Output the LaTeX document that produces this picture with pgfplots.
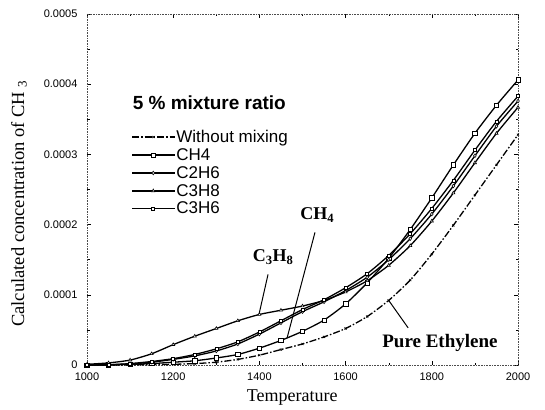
\documentclass[border=0pt]{standalone}
\usepackage{fontspec}
\setmainfont{Liberation Serif}
\setsansfont{Liberation Sans}
\usepackage{pgfplots}
\pgfplotsset{compat=1.18}
\usepackage{pgfplotstable}

% CH3 concentration vs temperature, 5 % additive in ethylene
\pgfplotstableread{
T c
1000 0
1050 0.001e-4
1100 0.002e-4
1150 0.005e-4
1200 0.01e-4
1250 0.02e-4
1300 0.04e-4
1350 0.08e-4
1400 0.14e-4
1450 0.22e-4
1500 0.30e-4
1550 0.40e-4
1600 0.52e-4
1650 0.69e-4
1700 0.92e-4
1750 1.21e-4
1800 1.58e-4
1850 1.99e-4
1900 2.42e-4
1950 2.85e-4
2000 3.28e-4
}\pure

\pgfplotstableread{
T c
1000 0
1050 0.002e-4
1100 0.01e-4
1150 0.02e-4
1200 0.04e-4
1250 0.06e-4
1300 0.10e-4
1350 0.15e-4
1400 0.24e-4
1450 0.35e-4
1500 0.48e-4
1550 0.64e-4
1600 0.87e-4
1650 1.17e-4
1700 1.52e-4
1750 1.93e-4
1800 2.38e-4
1850 2.85e-4
1900 3.30e-4
1950 3.70e-4
2000 4.06e-4
}\methane

\pgfplotstableread{
T c
1000 0
1050 0.003e-4
1100 0.015e-4
1150 0.04e-4
1200 0.08e-4
1250 0.13e-4
1300 0.20e-4
1350 0.30e-4
1400 0.44e-4
1450 0.60e-4
1500 0.76e-4
1550 0.90e-4
1600 1.06e-4
1650 1.25e-4
1700 1.50e-4
1750 1.80e-4
1800 2.15e-4
1850 2.55e-4
1900 2.98e-4
1950 3.40e-4
2000 3.76e-4
}\ethane

\pgfplotstableread{
T c
1000 0.01e-4
1050 0.03e-4
1100 0.07e-4
1150 0.16e-4
1200 0.29e-4
1250 0.41e-4
1300 0.52e-4
1350 0.63e-4
1400 0.72e-4
1450 0.78e-4
1500 0.84e-4
1550 0.92e-4
1600 1.04e-4
1650 1.20e-4
1700 1.42e-4
1750 1.70e-4
1800 2.05e-4
1850 2.45e-4
1900 2.88e-4
1950 3.30e-4
2000 3.67e-4
}\propane

\pgfplotstableread{
T c
1000 0
1050 0.004e-4
1100 0.02e-4
1150 0.05e-4
1200 0.09e-4
1250 0.15e-4
1300 0.23e-4
1350 0.33e-4
1400 0.47e-4
1450 0.63e-4
1500 0.79e-4
1550 0.93e-4
1600 1.10e-4
1650 1.30e-4
1700 1.56e-4
1750 1.87e-4
1800 2.23e-4
1850 2.63e-4
1900 3.06e-4
1950 3.47e-4
2000 3.83e-4
}\propene

\begin{document}
\begin{tikzpicture}
\path[use as bounding box] (-87pt,-44pt) rectangle (458pt,365pt);
\begin{axis}[
  scale only axis,
  width=431pt, height=351pt,
  xmin=1000, xmax=2000, ymin=0, ymax=0.0005,
  scaled y ticks=false,
  xtick={1000,1200,1400,1600,1800,2000},
  xticklabels={1000,1200,1400,1600,1800,2000},
  minor xtick={1100,1300,1500,1700,1900},
  ytick={0,0.0001,0.0002,0.0003,0.0004,0.0005},
  yticklabels={0,0.0001,0.0002,0.0003,0.0004,0.0005},
  minor ytick={0.00005,0.00015,0.00025,0.00035,0.00045},
  tick align=inside,
  major tick length=4pt, minor tick length=2.5pt,
  tick style={black, thin},
  axis line style={black!70, densely dotted, line width=0.6pt},
  ticklabel style={font=\fontsize{11}{13}\selectfont\sffamily},
  yticklabel style={xshift=-6pt},
  xticklabel style={yshift=-4pt},
  xlabel={Temperature},
  ylabel={Calculated concentration of CH \textsubscript{3}},
  xlabel style={font=\fontsize{18}{20}\selectfont, at={(axis description cs:0.476,-0.094)}, anchor=center},
  ylabel style={font=\fontsize{18.5}{20}\selectfont, at={(axis description cs:-0.158,0.46)}, anchor=center},
  legend cell align=left,
  legend style={at={(axis cs:1103,3.37e-4)}, anchor=north west, draw=none, fill=none,
    font=\fontsize{17}{19}\selectfont\sffamily, row sep=1.5pt, inner sep=0pt,
    nodes={inner sep=1.5pt}},
  legend image code/.code={%
    \draw[mark repeat=2, mark phase=2, #1] plot coordinates {(0pt,0pt) (21pt,0pt) (42pt,0pt)};},
  every axis plot/.append style={black, line width=1.3pt, smooth, tension=0.4,
    mark options={solid, line width=0.6pt, fill=white}},
]
\addplot[dash pattern=on 7pt off 2pt on 1.5pt off 2pt, mark=x, mark size=1.5pt] table[x=T,y=c] {\pure};
\addlegendentry{Without mixing}
\addplot[mark=square*, mark size=2.2pt] table[x=T,y=c] {\methane};
\addlegendentry{CH4}
\addplot[mark=diamond*, mark size=1.8pt] table[x=T,y=c] {\ethane};
\addlegendentry{C2H6}
\addplot[mark=triangle*, mark size=1.8pt] table[x=T,y=c] {\propane};
\addlegendentry{C3H8}
\addplot[mark=square*, mark size=1.5pt] table[x=T,y=c] {\propene};
\addlegendentry{C3H6}

\node[anchor=west, font=\fontsize{19}{21}\selectfont\sffamily\bfseries] at (axis cs:1098,3.74e-4) {5 \% mixture ratio};

% call-outs
\node[font=\fontsize{18}{20}\selectfont\bfseries] at (axis cs:1432,1.54e-4) {C\textsubscript{3}H\textsubscript{8}};
\draw[line width=1pt] (axis cs:1420,1.29e-4) -- (axis cs:1399,0.72e-4);
\node[font=\fontsize{18}{20}\selectfont\bfseries] at (axis cs:1534,2.14e-4) {CH\textsubscript{4}};
\draw[line width=1pt] (axis cs:1529,1.89e-4) -- (axis cs:1464,0.38e-4);
\node[font=\fontsize{19}{21}\selectfont\bfseries] at (axis cs:1819,0.31e-4) {Pure Ethylene};
\draw[line width=1pt] (axis cs:1745,0.53e-4) -- (axis cs:1700,0.92e-4);
\end{axis}
\end{tikzpicture}
\end{document}
